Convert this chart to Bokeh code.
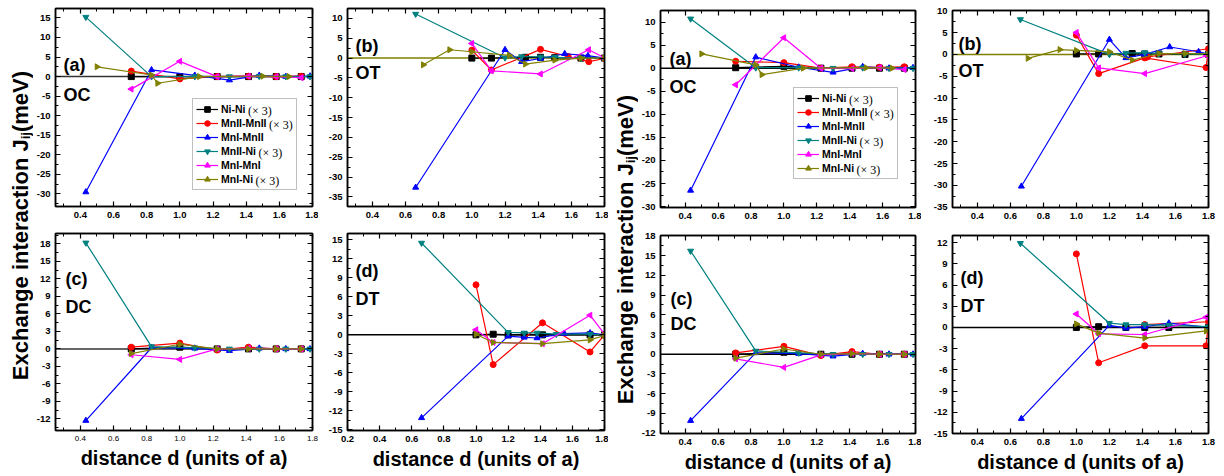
import math
from bokeh.plotting import figure
from bokeh.layouts import row, column
from bokeh.models import (Range1d, LinearAxis, FixedTicker, PrintfTickFormatter,
                          Span, Label, Legend, LegendItem)
from bokeh.core.properties import value
from bokeh.embed import file_html
from bokeh.resources import INLINE

SANS = "Liberation Sans"
SERIF = "Liberation Serif"

# ---------------------------------------------------------------- series
series_names = ["Ni-Ni", "MnII-MnII", "MnI-MnII", "MnII-Ni", "MnI-MnI", "MnI-Ni"]
series_tags = ["(\u00d7 3)", "(\u00d7 3)", "", "(\u00d7 3)", "", "(\u00d7 3)"]
series_colors = ["#000000", "#ff0000", "#0000ff", "#008080", "#ff00ff", "#808000"]
series_markers = ["square", "circle", "triangle", "inverted_triangle", "triangle", "triangle"]
series_angles = [0.0, 0.0, 0.0, 0.0, math.pi / 2, -math.pi / 2]

# ---------------------------------------------------------------- ticks
x_ticks = [0.2, 0.4, 0.6, 0.8, 1.0, 1.2, 1.4, 1.6, 1.8]
x_minor_ticks = [0.1, 0.3, 0.5, 0.7, 0.9, 1.1, 1.3, 1.5, 1.7]
y_ticks_5 = [-35, -30, -25, -20, -15, -10, -5, 0, 5, 10, 15]
y_ticks_3 = [-15, -12, -9, -6, -3, 0, 3, 6, 9, 12, 15, 18]

# ---------------------------------------------------------------- shells (units of a)
d_mm = [0.707, 1.0, 1.225, 1.414, 1.581, 1.732]
d_mn = [0.433, 0.829, 1.090, 1.299, 1.479, 1.639, 1.785]
d_mni = [0.5, 0.829, 0.866, 1.118, 1.5, 1.658]

# ---------------------------------------------------------------- OC, first set (a)
oc1_nini = [0.0, 0.0, 0.0, 0.0, 0.0, 0.0]
oc1_m2m2 = [1.4, -0.6, 0.0, 0.1, 0.0, 0.1]
oc1_m1m2 = [-29.5, 1.7, 0.3, -0.9, 0.3, 0.0, 0.1]
oc1_m2ni = [15.2, 0.0, 0.0, 0.0, 0.1, 0.0, 0.0]
oc1_m1m1 = [-3.2, 3.9, 0.0, 0.1, 0.0, -0.3]
oc1_m1ni = [2.5, 0.4, -1.7, 0.0, 0.1, 0.0]

# ---------------------------------------------------------------- OT, first set (b)
ot1_d_nini = [1.0, 1.118, 1.323, 1.414, 1.5, 1.658, 1.8]
ot1_nini = [0.0, 0.0, 0.2, 0.2, 0.1, 0.0, 0.0]
ot1_d_m2m2 = [1.0, 1.118, 1.414, 1.581, 1.705, 1.8]
ot1_m2m2 = [2.0, -3.0, 2.2, 0.4, -0.9, -0.1]
ot1_d_m1m2 = [0.661, 1.2, 1.3, 1.414, 1.56, 1.7, 1.8]
ot1_m1m2 = [-32.6, 2.1, -0.9, -0.1, 1.1, 0.6, 0.0]
ot1_d_m2ni = [0.661, 1.2, 1.3, 1.414, 1.5, 1.658, 1.8]
ot1_m2ni = [11.1, 0.1, 0.4, 0.3, 0.2, 0.0, 0.0]
ot1_d_m1m1 = [1.0, 1.118, 1.414, 1.705, 1.8]
ot1_m1m1 = [3.7, -3.2, -4.0, 2.1, 0.1]
ot1_d_m1ni = [0.707, 0.866, 1.0, 1.225, 1.323, 1.5, 1.658, 1.8]
ot1_m1ni = [-1.7, 2.1, 1.6, 0.7, -1.5, -0.5, 0.0, 0.0]

# ---------------------------------------------------------------- DC, first set (c)
dc1_nini = [0.0, 0.3, 0.0, 0.0, 0.0, 0.0]
dc1_m2m2 = [0.3, 1.0, -0.2, 0.3, 0.0, 0.0]
dc1_m1m2 = [-12.3, 0.2, 0.1, -0.3, 0.1, 0.0, 0.0]
dc1_m2ni = [18.2, 0.4, 0.2, 0.0, 0.0, 0.0, 0.0]
dc1_m1m1 = [-1.0, -1.8, 0.0, 0.1, 0.0, 0.0]
dc1_m1ni = [-0.8, 0.8, 0.0, 0.0, 0.0, 0.0]

# ---------------------------------------------------------------- DT, first set (d)
dt1_d_nini = [1.0, 1.107, 1.2, 1.3, 1.414, 1.71, 1.8]
dt1_nini = [0.0, 0.1, 0.0, 0.0, 0.0, 0.0, 0.0]
dt1_d_m2m2 = [1.0, 1.107, 1.414, 1.71, 1.8]
dt1_m2m2 = [7.9, -4.7, 1.9, -2.7, 0.0]
dt1_d_m1m2 = [0.661, 1.2, 1.3, 1.38, 1.55, 1.71, 1.8]
dt1_m1m2 = [-13.1, -0.2, -0.4, -0.5, 0.2, 0.3, 0.0]
dt1_d_m2ni = [0.661, 1.2, 1.3, 1.38, 1.5, 1.71, 1.8]
dt1_m2ni = [14.5, 0.4, 0.3, 0.3, 0.1, 0.1, 0.0]
dt1_d_m1m1 = [1.0, 1.107, 1.414, 1.71, 1.8]
dt1_m1m1 = [0.8, -1.2, -1.4, 3.1, 0.1]
dt1_m1ni = [0.1, -1.2, -1.4, -0.8, -0.1]

# ---------------------------------------------------------------- OC, second set (a)
oc2_nini = [0.1, 0.4, 0.0, 0.0, 0.0, 0.0]
oc2_m2m2 = [1.5, 1.2, 0.0, 0.3, 0.2, 0.3]
oc2_m1m2 = [-26.5, 2.4, 0.2, -0.9, 0.3, 0.0, 0.1]
oc2_m2ni = [10.7, 0.1, 0.1, 0.0, 0.1, 0.0, 0.0]
oc2_m1m1 = [-3.6, 6.6, 0.0, -0.1, 0.1, -0.3]
oc2_m1ni = [3.1, 0.7, -1.4, 0.0, 0.1, 0.0]

# ---------------------------------------------------------------- OT, second set (b)
ot2_d_nini = [1.0, 1.135, 1.338, 1.414, 1.5, 1.658, 1.8]
ot2_nini = [0.1, 0.1, 0.2, 0.1, 0.1, 0.0, 0.0]
ot2_d_m2m2 = [1.0, 1.135, 1.414, 1.785, 1.8, 1.43]
ot2_m2m2 = [4.4, -4.4, -0.8, -3.0, 1.3, -0.6]
ot2_d_m1m2 = [0.667, 1.2, 1.3, 1.414, 1.565, 1.74, 1.8]
ot2_m1m2 = [-30.2, 3.4, -0.8, 0.0, 1.7, 0.6, 0.1]
ot2_d_m2ni = [0.661, 1.2, 1.3, 1.414, 1.5, 1.658, 1.8]
ot2_m2ni = [8.0, 0.0, 0.3, 0.4, 0.2, 0.1, 0.0]
ot2_d_m1m1 = [1.0, 1.135, 1.414, 1.79]
ot2_m1m1 = [5.0, -3.1, -4.4, -0.3]
ot2_d_m1ni = [0.707, 0.9, 1.0, 1.2, 1.338, 1.5, 1.658, 1.8]
ot2_m1ni = [-0.9, 1.1, 0.9, 0.6, -1.3, 0.2, 0.2, 0.1]

# ---------------------------------------------------------------- DC, second set (c)
dc2_nini = [0.0, 0.3, 0.0, 0.0, 0.0, 0.0]
dc2_m2m2 = [0.2, 1.2, -0.2, 0.4, 0.0, 0.0]
dc2_m1m2 = [-10.1, 0.2, 0.1, -0.3, 0.1, 0.0, 0.0]
dc2_m2ni = [15.7, 0.5, 0.2, 0.0, 0.0, 0.0, 0.0]
dc2_m1m1 = [-0.7, -2.0, -0.1, 0.1, 0.0, 0.0]
dc2_m1ni = [-0.6, 0.8, 0.0, 0.1, 0.0, 0.0]

# ---------------------------------------------------------------- DT, second set (d)
dt2_d_nini = [1.0, 1.135, 1.3, 1.414, 1.56, 1.8]
dt2_nini = [0.0, 0.1, 0.0, 0.0, 0.0, 0.0]
dt2_d_m2m2 = [1.0, 1.135, 1.414, 1.785, 1.8, 1.414]
dt2_m2m2 = [10.4, -5.0, -2.6, -2.6, 0.8, 0.4]
dt2_d_m1m2 = [0.667, 1.2, 1.3, 1.414, 1.56, 1.8]
dt2_m1m2 = [-12.9, 0.3, -0.1, 0.1, 0.6, 0.0]
dt2_d_m2ni = [0.661, 1.2, 1.3, 1.414, 1.56, 1.8]
dt2_m2ni = [11.9, 0.6, 0.4, 0.4, 0.3, 0.1]
dt2_d_m1m1 = [1.0, 1.135, 1.414, 1.786]
dt2_m1m1 = [1.9, -0.9, -1.0, 1.45]
dt2_m1ni = [0.5, -0.8, -1.5, -0.5]

# ---------------------------------------------------------------- layout geometry
# per column: outer width, left / right border
COLS = [dict(w=285, l=22, r=6), dict(w=290, l=29, r=4),
        dict(w=283, l=20, r=6), dict(w=303, l=31, r=16)]
# per half: (top figure, bottom figure) as (height, top border, bottom border)
ROWS = {0: [(223, 8, 17), (253, 10, 46)], 1: [(224, 10, 17), (252, 11, 43)]}

# Arial-bold advance widths (em) for legend text placement
BOLD_W = {"M": 0.833, "n": 0.611, "I": 0.278, "N": 0.722, "i": 0.278, "-": 0.333, " ": 0.278}


def text_width(s, size):
    return sum(BOLD_W.get(ch, 0.556) for ch in s) * size


def style_axis(ax, ticks, minor, fmt, labelled, size="9.5px", style="bold"):
    ax.ticker = FixedTicker(ticks=ticks, minor_ticks=minor)
    ax.formatter = PrintfTickFormatter(format=fmt)
    ax.axis_line_color = "black"
    ax.axis_line_width = 1.5
    ax.major_tick_in = 5
    ax.major_tick_out = 0
    ax.major_tick_line_width = 1.2
    ax.minor_tick_in = 3
    ax.minor_tick_out = 0
    ax.minor_tick_line_width = 1
    if labelled:
        ax.major_label_text_font = SANS
        ax.major_label_text_font_size = size
        ax.major_label_text_font_style = style
        ax.major_label_text_color = "black"
        ax.major_label_standoff = 5
    else:
        # mirror axis: ticks only
        ax.major_label_text_font_size = "1px"
        ax.major_label_text_alpha = 0
        ax.major_label_standoff = 0


def make_panel(series, col, top, y_range, y_ticks, tag, struct, tag_pos, zero_color,
               x_start=0.25, legend_loc=None, xtick_size="9.5px", xtick_style="bold"):
    c = COLS[col]
    h, bt, bb = ROWS[0 if col < 2 else 1][0 if top else 1]
    p = figure(width=c["w"], height=h,
               x_range=Range1d(x_start, 1.8), y_range=Range1d(*y_range),
               min_border_left=c["l"], min_border_right=c["r"],
               min_border_top=bt, min_border_bottom=bb,
               output_backend="svg", toolbar_location=None, tools="")
    p.grid.visible = False
    p.outline_line_color = "black"
    p.outline_line_width = 1.5
    p.background_fill_color = "white"
    p.border_fill_color = "white"

    step = y_ticks[1] - y_ticks[0]
    y_minor = [t + step / 2 for t in y_ticks]

    style_axis(p.below[0], x_ticks, x_minor_ticks, "%.1f", True, xtick_size, xtick_style)
    style_axis(p.left[0], y_ticks, y_minor, "%d", True)
    above = LinearAxis()
    p.add_layout(above, "above")
    style_axis(above, x_ticks, x_minor_ticks, "%.1f", False)
    right = LinearAxis()
    p.add_layout(right, "right")
    style_axis(right, y_ticks, y_minor, "%d", False)

    if not top:
        ax = p.below[0]
        ax.axis_label = "distance d (units of a)"
        ax.axis_label_text_font = SANS
        ax.axis_label_text_font_size = "20px"
        ax.axis_label_text_font_style = "bold"
        ax.axis_label_text_color = "black"
        ax.axis_label_standoff = 3

    p.add_layout(Span(location=0, dimension="width", line_color=zero_color,
                      line_width=1.5, level="underlay"))

    items = []
    for (xs, ys), name, color, marker, ang in zip(series, series_names, series_colors,
                                                   series_markers, series_angles):
        lr = p.line(xs, ys, line_color=color, line_width=1.2)
        p.scatter(xs, ys, marker=marker, angle=ang, size=6,
                  fill_color=color, line_color=color)
        if legend_loc is not None:
            # larger symbol used only for the key
            key = p.scatter(xs, ys, marker=marker, angle=ang, size=8.5,
                            fill_color=color, line_color=color, visible=False)
            items.append(LegendItem(label=name, renderers=[lr, key]))

    tx, ty1, ty2 = tag_pos
    for txt, ty in ((tag, ty1), (struct, ty2)):
        p.add_layout(Label(x=tx, y=ty, x_units="screen", y_units="screen", text=txt,
                           text_font=SANS, text_font_size="18px", text_font_style="bold",
                           text_color="black", text_baseline="middle"))

    if legend_loc is not None:
        pad, row_h, gw, gap = 3, 14, 22, 3
        leg = Legend(items=items, location=legend_loc, padding=pad, spacing=0, margin=0,
                     glyph_width=gw, glyph_height=row_h, label_height=row_h,
                     label_width=72, label_standoff=gap,
                     border_line_color="#808080", border_line_width=1.5,
                     background_fill_alpha=0.0,
                     inactive_fill_alpha=0.0,
                     label_text_font=SANS, label_text_font_size="10.5px",
                     label_text_font_style="bold", label_text_color="black")
        p.add_layout(leg)
        box_h = 2 * pad + row_h * len(items)
        for i, (name, mult) in enumerate(zip(series_names, series_tags)):
            if not mult:
                continue
            lx = legend_loc[0] + pad + gw + gap + text_width(name + " ", 10.5)
            ly = legend_loc[1] + box_h - pad - (i + 0.5) * row_h
            p.add_layout(Label(x=lx, y=ly, x_units="screen", y_units="screen", text=mult,
                               text_font=SERIF, text_font_size="12px",
                               text_color="black", text_baseline="middle"))
    return p


def ylabel_fig(width, center_x, center_y):
    f = figure(width=width, height=476, x_range=Range1d(0, width), y_range=Range1d(0, 476),
               min_border=0, x_axis_location=None, y_axis_location=None,
               output_backend="svg", toolbar_location=None, tools="")
    f.grid.visible = False
    f.outline_line_color = None
    size, sub = 22, 13
    main = "Exchange interaction J"
    tail = " (meV)"
    w_main = 10.948 * size
    w_sub = 0.556 * sub
    w_tail = 3.056 * size
    y0 = (476 - center_y) - (w_main + w_sub + w_tail) / 2
    style = dict(angle=math.pi / 2, text_align="left", text_baseline="middle",
                 text_font=value(SANS), text_font_style="bold", text_color="black")
    f.text(x=[center_x], y=[y0], text=[main], text_font_size=f"{size}px", **style)
    f.text(x=[center_x + 5], y=[y0 + w_main], text=["ij"], text_font_size=f"{sub}px", **style)
    f.text(x=[center_x], y=[y0 + w_main + w_sub], text=[tail], text_font_size=f"{size}px",
           **style)
    return f


p1 = make_panel([(d_mm, oc1_nini), (d_mm, oc1_m2m2), (d_mn, oc1_m1m2),
                 (d_mn, oc1_m2ni), (d_mm, oc1_m1m1), (d_mni, oc1_m1ni)],
                0, True, (-33.2, 17.4), y_ticks_5, "(a)", "OC", (8, 142, 112), "#333333",
                legend_loc=(137, 16))
p2 = make_panel([(ot1_d_nini, ot1_nini), (ot1_d_m2m2, ot1_m2m2), (ot1_d_m1m2, ot1_m1m2),
                 (ot1_d_m2ni, ot1_m2ni), (ot1_d_m1m1, ot1_m1m1), (ot1_d_m1ni, ot1_m1ni)],
                1, True, (-37.4, 12.5), y_ticks_5, "(b)", "OT", (8, 161, 134), "#808000")
p5 = make_panel([(d_mm, dc1_nini), (d_mm, dc1_m2m2), (d_mn, dc1_m1m2),
                 (d_mn, dc1_m2ni), (d_mm, dc1_m1m1), (d_mm, dc1_m1ni)],
                0, False, (-14.0, 19.8), y_ticks_3, "(c)", "DC", (10, 152, 124), "#333333",
                xtick_size="8px", xtick_style="normal")
p6 = make_panel([(dt1_d_nini, dt1_nini), (dt1_d_m2m2, dt1_m2m2), (dt1_d_m1m2, dt1_m1m2),
                 (dt1_d_m2ni, dt1_m2ni), (dt1_d_m1m1, dt1_m1m1), (dt1_d_m1m1, dt1_m1ni)],
                1, False, (-15.1, 16.0), y_ticks_3, "(d)", "DT", (8, 160, 132), "#000000",
                x_start=0.2)
p3 = make_panel([(d_mm, oc2_nini), (d_mm, oc2_m2m2), (d_mn, oc2_m1m2),
                 (d_mn, oc2_m2ni), (d_mm, oc2_m1m1), (d_mni, oc2_m1ni)],
                2, True, (-30.2, 12.5), y_ticks_5, "(a)", "OC", (9, 149, 121), "#000000",
                legend_loc=(133, 28))
p4 = make_panel([(ot2_d_nini, ot2_nini), (ot2_d_m2m2, ot2_m2m2), (ot2_d_m1m2, ot2_m1m2),
                 (ot2_d_m2ni, ot2_m2ni), (ot2_d_m1m1, ot2_m1m1), (ot2_d_m1ni, ot2_m1ni)],
                3, True, (-35.05, 10.05), y_ticks_5, "(b)", "OT", (6, 164, 137), "#808000")
p7 = make_panel([(d_mm, dc2_nini), (d_mm, dc2_m2m2), (d_mn, dc2_m1m2),
                 (d_mn, dc2_m2ni), (d_mm, dc2_m1m1), (d_mm, dc2_m1ni)],
                2, False, (-12.05, 18.05), y_ticks_3, "(c)", "DC", (10, 135, 110), "#000000")
p8 = make_panel([(dt2_d_nini, dt2_nini), (dt2_d_m2m2, dt2_m2m2), (dt2_d_m1m2, dt2_m1m2),
                 (dt2_d_m2ni, dt2_m2ni), (dt2_d_m1m1, dt2_m1m1), (dt2_d_m1m1, dt2_m1ni)],
                3, False, (-15.0, 13.0), y_ticks_3, "(d)", "DT", (8, 156, 128), "#000000")

yl1 = ylabel_fig(33, 20, 222)
yl3 = ylabel_fig(30, 17, 246)

layout = row(yl1, column(p1, p5), column(p2, p6), yl3, column(p3, p7), column(p4, p8))

open("out.html", "w").write(file_html(layout, INLINE))
